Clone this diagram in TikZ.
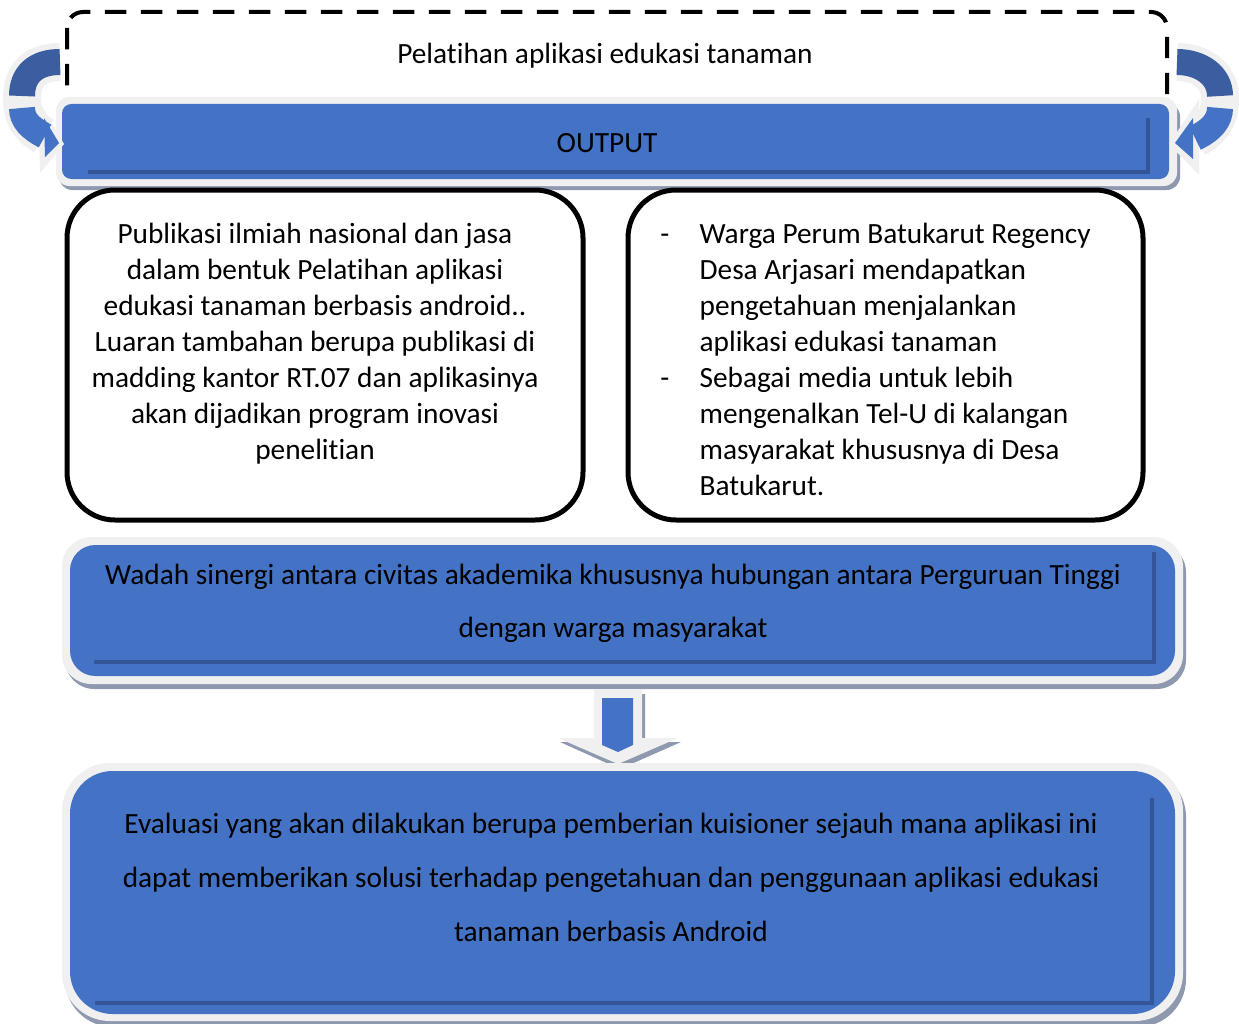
\documentclass[tikz,border=0pt]{standalone}
\usepackage{fontspec}
\setmainfont{Carlito}[Ligatures=NoCommon]
\definecolor{boxblue}{RGB}{68,114,196}
\definecolor{rimgray}{RGB}{240,240,240}
\definecolor{shadowgray}{RGB}{142,153,175}
\definecolor{bevel}{RGB}{52,86,152}
\definecolor{darkblue}{RGB}{58,94,160}
\tikzset{
  txt/.style={font=\fontsize{22pt}{27pt}\selectfont, inner sep=0pt},
  widetxt/.style={font=\fontsize{22pt}{40pt}\selectfont, inner sep=0pt, align=center},
  whitebox/.style={draw=black, line width=3.75pt, fill=white, rounded corners=36pt},
  bevelline/.style={draw=bevel, line width=3pt},
  rimband/.style={draw=rimgray, line width=28.5pt},
  bluebandA/.style={draw=darkblue, line width=19.5pt},
  bluebandB/.style={draw=boxblue, line width=19.5pt},
}
\begin{document}
\begin{tikzpicture}[x=0.75pt,y=-0.75pt]
\useasboundingbox (0,0) rectangle (1239,1024);

% dashed top box
\draw[line width=3pt, dash pattern=on 16pt off 11pt, rounded corners=12pt] (67,12) rectangle (1167,130);
\node[txt] (title) at (605,56) {Pelatihan aplikasi edukasi tanaman};

% OUTPUT bar
\fill[shadowgray, rounded corners=10pt] (59,103) rectangle (1180,190);
\fill[rimgray, rounded corners=10pt] (56,97) rectangle (1177,186);
\fill[boxblue, rounded corners=7pt] (62,104) rectangle (1169,179);
\draw[bevelline] (88,172) -- (1148,172) -- (1148,118);
\node[txt] (output) at (607,143) {OUTPUT};

% left curved arrow
\path[rimband] (60,62) .. controls (35,62) and (22,75) .. (22,98) .. controls (22,118) and (30,128) .. (44,136);
\fill[rimgray] (38,99) -- (64,144) -- (40,173) -- cycle;
\path[bluebandA] (60,62) .. controls (35,62) and (22,75) .. (22,96);
\path[bluebandB] (22,108) .. controls (22,120) and (30,128) .. (45,136);
\fill[boxblue] (44,118) -- (59,143) -- (45,157) -- cycle;

% right curved arrow
\path[rimband] (1177,62) .. controls (1200,62) and (1220,75) .. (1220,98) .. controls (1220,118) and (1212,130) .. (1196,138);
\fill[rimgray] (1199,99) -- (1169,144) -- (1199,175) -- cycle;
\path[bluebandA] (1177,62) .. controls (1200,62) and (1220,75) .. (1220,96);
\path[bluebandB] (1220,108) .. controls (1220,120) and (1212,130) .. (1195,138);
\fill[boxblue] (1193,118) -- (1175,143) -- (1193,159) -- cycle;

% two white boxes
\path[whitebox] (67,190) rectangle (583,520);
\path[whitebox] (628,190) rectangle (1143,520);
\node[txt, align=center] (left) at (315,344) {Publikasi ilmiah nasional dan jasa\\ dalam bentuk Pelatihan aplikasi\\ edukasi tanaman berbasis android..\\ Luaran tambahan berupa publikasi di\\ madding kantor RT.07 dan aplikasinya\\ akan dijadikan program inovasi\\ penelitian};
\node[txt, anchor=west] (right) at (660,362) {\begin{tabular}{@{}p{29.5pt}@{}l@{}}
-& Warga Perum Batukarut Regency\\
 & Desa Arjasari mendapatkan\\
 & pengetahuan menjalankan\\
 & aplikasi edukasi tanaman\\
-& Sebagai media untuk lebih\\
 & mengenalkan Tel-U di kalangan\\
 & masyarakat khususnya di Desa\\
 & Batukarut.
\end{tabular}};

% Wadah bar
\fill[shadowgray, rounded corners=22pt] (65,543) rectangle (1186,689);
\fill[rimgray, rounded corners=22pt] (62,537) rectangle (1183,684);
\fill[boxblue, rounded corners=19pt] (70,545) rectangle (1175,676);
\draw[bevelline] (94,662) -- (1154,662) -- (1154,552);
\node[widetxt] (wadah) at (613,603) {Wadah sinergi antara civitas akademika khususnya hubungan antara Perguruan Tinggi\\ dengan warga masyarakat};

% down arrow
\fill[shadowgray] (597,694) -- (645,694) -- (645,742) -- (681,742) -- (620,769) -- (560,742) -- (597,742) -- cycle;
\fill[rimgray] (594,690) -- (642,690) -- (642,738) -- (678,738) -- (618,764) -- (558,738) -- (594,738) -- cycle;
\fill[boxblue] (602,698) -- (633,698) -- (633,745) -- (618,752) -- (602,745) -- cycle;

% Evaluasi box
\fill[shadowgray, rounded corners=36pt] (65,769) rectangle (1186,1027);
\fill[rimgray, rounded corners=36pt] (62,763) rectangle (1183,1021);
\fill[boxblue, rounded corners=32pt] (70,771) rectangle (1175,1014);
\draw[bevelline] (95,1003) -- (1152,1003) -- (1152,798);
\node[widetxt, font=\fontsize{22pt}{40.5pt}\selectfont] (eval) at (611,877) {Evaluasi yang akan dilakukan berupa pemberian kuisioner sejauh mana aplikasi ini\\ dapat memberikan solusi terhadap pengetahuan dan penggunaan aplikasi edukasi\\ tanaman berbasis Android};
\end{tikzpicture}
\end{document}
